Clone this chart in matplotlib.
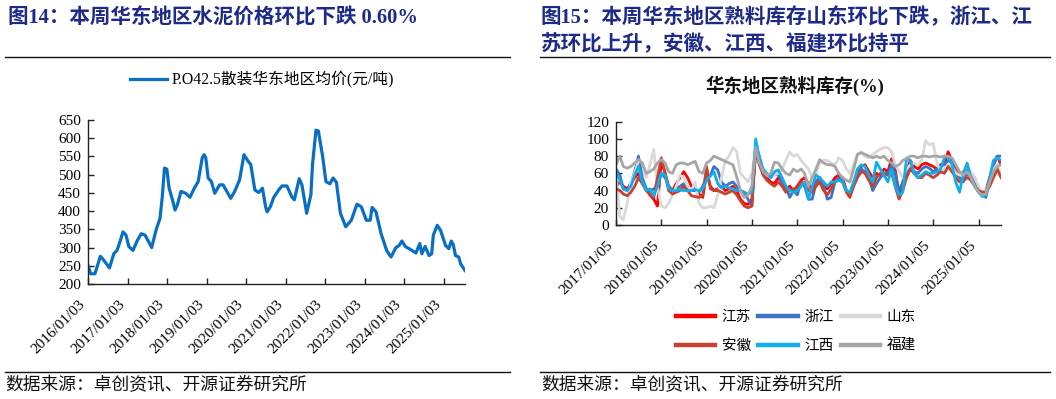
import matplotlib
matplotlib.use('Agg')
import matplotlib.pyplot as plt
import matplotlib.dates as mdates
from matplotlib.lines import Line2D
import pandas as pd

# 图14 数据：P.O42.5散装华东地区均价(元/吨)
price_dates = [
    '2016-01-03', '2016-01-28', '2016-03-07', '2016-04-26', '2016-05-18', '2016-07-20',
    '2016-08-28', '2016-09-27', '2016-10-19', '2016-11-22', '2016-12-20', '2017-01-14',
    '2017-02-22', '2017-03-30', '2017-05-09', '2017-06-14', '2017-08-14', '2017-09-23',
    '2017-10-30', '2017-11-20', '2017-12-10', '2018-01-01', '2018-01-22', '2018-02-22',
    '2018-03-18', '2018-04-08', '2018-05-12', '2018-06-24', '2018-08-03', '2018-09-12',
    '2018-10-18', '2018-11-24', '2018-12-12', '2018-12-27', '2019-01-18', '2019-02-17',
    '2019-03-20', '2019-05-04', '2019-06-05', '2019-08-15', '2019-09-20', '2019-11-05',
    '2019-12-15', '2020-01-22', '2020-02-16', '2020-03-25', '2020-04-30', '2020-06-03',
    '2020-07-02', '2020-07-16', '2020-08-15', '2020-09-16', '2020-10-31', '2020-12-01',
    '2021-01-16', '2021-03-03', '2021-03-25', '2021-05-09', '2021-06-03', '2021-07-17',
    '2021-08-25', '2021-09-09', '2021-10-11', '2021-11-02', '2021-12-11', '2022-01-11',
    '2022-02-17', '2022-03-18', '2022-04-18', '2022-05-25', '2022-07-13', '2022-09-03',
    '2022-10-25', '2022-12-04', '2023-01-19', '2023-02-24', '2023-03-14', '2023-04-19',
    '2023-06-05', '2023-07-27', '2023-09-05', '2023-10-20', '2023-11-20', '2023-12-14',
    '2024-01-15', '2024-03-07', '2024-04-22', '2024-05-28', '2024-06-16', '2024-07-16',
    '2024-08-22', '2024-09-15', '2024-09-30', '2024-11-05', '2024-12-05', '2025-01-21',
    '2025-02-20', '2025-03-15', '2025-04-02', '2025-04-23', '2025-05-23', '2025-06-10',
    '2025-07-20',
]
price_values = [
    251, 228, 228, 276, 269, 244,
    283, 292, 311, 343, 334, 303,
    292, 317, 338, 334, 300, 348,
    380, 440, 518, 515, 463, 431,
    403, 417, 454, 449, 438, 463,
    481, 546, 555, 546, 491, 481,
    449, 472, 472, 435, 454, 486,
    555, 537, 528, 458, 451, 463,
    412, 398, 412, 438, 458, 469,
    469, 438, 431, 489, 472, 394,
    445, 528, 622, 620, 551, 481,
    475, 491, 479, 394, 357, 375,
    419, 412, 375, 375, 410, 398,
    338, 292, 274, 300, 306, 318,
    303, 294, 285, 311, 283, 303,
    278, 283, 334, 361, 348, 306,
    297, 318, 309, 278, 274, 255,
    237,
]
price_ticks = ['2016-01-03', '2017-01-03', '2018-01-03', '2019-01-03', '2020-01-03',
               '2021-01-03', '2022-01-03', '2023-01-03', '2024-01-03', '2025-01-03']

# 图15 数据：华东地区熟料库存(%)，2017/01 - 2025/07 月度
jiangsu = [
    45, 50, 45, 42, 48, 55, 60, 52, 42, 35, 30, 22,
    75, 60, 45, 40, 48, 55, 62, 55, 45, 42, 36, 32,
    60, 45, 40, 42, 45, 40, 42, 45, 40, 30, 25, 24,
    30, 85, 72, 60, 55, 50, 48, 55, 50, 42, 45, 40,
    45, 52, 55, 48, 40, 50, 55, 45, 42, 48, 55, 58,
    55, 40, 35, 50, 60, 68, 70, 62, 55, 60, 58, 65,
    62, 77, 65, 35, 50, 62, 75, 68, 65, 70, 72, 70,
    68, 65, 70, 72, 85, 75, 68, 60, 62, 65, 58, 55,
    40, 38, 40, 55, 70, 80, 70,
]
zhejiang = [
    65, 58, 42, 40, 48, 62, 80, 55, 42, 40, 42, 45,
    60, 55, 45, 40, 42, 45, 48, 42, 40, 40, 38, 45,
    55, 58, 68, 64, 50, 45, 48, 50, 45, 40, 38, 30,
    22, 92, 80, 62, 58, 55, 60, 58, 50, 45, 32, 40,
    35, 50, 45, 30, 30, 48, 55, 45, 30, 32, 50, 55,
    52, 40, 35, 48, 58, 65, 62, 55, 40, 48, 55, 60,
    60, 70, 60, 40, 48, 62, 70, 62, 60, 65, 68, 66,
    62, 65, 68, 70, 75, 72, 60, 55, 50, 60, 55, 50,
    40, 35, 32, 50, 70, 80, 80,
]
shandong = [
    60, 10, 6, 25, 50, 60, 75, 72, 55, 70, 88, 45,
    22, 20, 25, 35, 45, 58, 55, 45, 40, 50, 25, 20,
    20, 22, 20, 35, 55, 75, 80, 90, 85, 60, 55, 50,
    60, 85, 70, 60, 58, 55, 58, 60, 65, 75, 85, 80,
    82, 75, 70, 65, 55, 60, 72, 75, 75, 72, 70, 78,
    75, 65, 60, 70, 82, 85, 80, 78, 82, 85, 88, 90,
    90, 85, 70, 62, 55, 65, 70, 72, 70, 75, 98, 93,
    95, 72, 62, 65, 70, 68, 60, 58, 62, 68, 62, 55,
    45, 38, 40, 50, 65, 70, 60,
]
anhui = [
    42, 40, 36, 34, 38, 45, 55, 48, 40, 36, 32, 55,
    78, 60, 40, 36, 38, 40, 45, 40, 34, 33, 32, 35,
    68, 42, 40, 40, 38, 36, 38, 40, 35, 28, 22, 20,
    22, 88, 70, 58, 52, 48, 45, 50, 45, 38, 40, 42,
    42, 50, 48, 40, 38, 45, 50, 40, 35, 42, 50, 52,
    50, 38, 32, 45, 55, 62, 60, 52, 45, 55, 60, 58,
    58, 60, 45, 30, 40, 55, 65, 60, 55, 55, 60, 58,
    55, 58, 62, 60, 68, 62, 55, 50, 52, 55, 52, 45,
    40, 38, 38, 45, 55, 65, 55,
]
jiangxi = [
    62, 52, 42, 40, 45, 58, 68, 50, 40, 42, 34, 45,
    60, 58, 42, 40, 40, 41, 40, 40, 40, 41, 40, 42,
    52, 57, 62, 48, 43, 45, 43, 42, 40, 40, 38, 36,
    38, 100, 78, 65, 60, 55, 62, 64, 55, 45, 40, 38,
    40, 45, 50, 30, 45, 58, 55, 50, 45, 50, 50, 52,
    50, 40, 38, 50, 65, 70, 68, 58, 50, 73, 65, 58,
    50, 65, 45, 35, 38, 78, 75, 60, 55, 58, 62, 60,
    60, 62, 65, 78, 80, 70, 50, 38, 60, 72, 55, 45,
    38, 33, 35, 55, 75, 78, 75,
]
fujian = [
    70, 80, 68, 66, 68, 72, 76, 72, 60, 62, 65, 72,
    76, 72, 62, 60, 70, 72, 72, 70, 72, 74, 62, 60,
    72, 75, 80, 78, 76, 74, 72, 70, 56, 40, 32, 35,
    45, 90, 72, 62, 58, 60, 73, 72, 65, 60, 58, 65,
    62, 65, 60, 45, 55, 65, 76, 72, 70, 70, 68, 60,
    55, 52, 50, 65, 82, 84, 82, 80, 78, 80, 78, 80,
    75, 72, 68, 70, 75, 77, 80, 80, 78, 80, 80, 79,
    80, 80, 79, 80, 80, 78, 70, 62, 58, 62, 55, 45,
    38, 35, 36, 50, 62, 68, 70,
]
stock_ticks = ['2017-01-05', '2018-01-05', '2019-01-05', '2020-01-05', '2021-01-05',
               '2022-01-05', '2023-01-05', '2024-01-05', '2025-01-05']

series_names = ['江苏', '浙江', '山东', '安徽', '江西', '福建']
series_colors = ['#FF0000', '#3A74C4', '#D9D9D9', '#C8412F', '#10AEEA', '#A6A6A6']

serif_cjk = ['Liberation Serif', 'Noto Sans CJK SC']
cjk = ['Noto Sans CJK SC', 'DejaVu Sans']
navy = '#1E2A8A'

fig = plt.figure(figsize=(10.56, 3.99), dpi=100)

# ---- 左图 ----
ax1 = fig.add_axes([88 / 1056, 1 - 284 / 399, 377 / 1056, 164 / 399])
x1 = pd.to_datetime(price_dates)
ax1.plot(x1, price_values, color='#0A6FC2', lw=2.3, label='P.O42.5散装华东地区均价(元/吨)')
ax1.set_ylim(200, 650)
ax1.set_yticks(range(200, 651, 50))
ax1.set_xlim(pd.Timestamp('2016-01-03'), pd.Timestamp('2025-07-20'))
ax1.set_xticks(pd.to_datetime(price_ticks))
ax1.xaxis.set_major_formatter(mdates.DateFormatter('%Y/%m/%d'))
leg1 = ax1.legend(loc='center', bbox_to_anchor=(262 / 1056, 1 - 80 / 399),
                  bbox_transform=fig.transFigure, frameon=False,
                  prop={'family': serif_cjk, 'size': 11.3},
                  handlelength=2.4, handletextpad=0.3)

# ---- 右图 ----
ax2 = fig.add_axes([616 / 1056, 1 - 225 / 399, 385 / 1056, 103.3 / 399])
x2 = pd.date_range('2017-01-01', periods=len(jiangsu), freq='MS') + pd.Timedelta(days=4)
lines = []
for vals, name, col in zip([jiangsu, zhejiang, shandong, anhui, jiangxi, fujian],
                           series_names, series_colors):
    ln, = ax2.plot(x2, vals, color=col, lw=2.0, label=name)
    lines.append(ln)
ax2.set_ylim(0, 120)
ax2.set_yticks(range(0, 121, 20))
ax2.set_xlim(pd.Timestamp('2017-01-05'), x2[-1])
ax2.set_xticks(pd.to_datetime(stock_ticks))
ax2.xaxis.set_major_formatter(mdates.DateFormatter('%Y/%m/%d'))
order = [0, 3, 1, 4, 2, 5]
leg2 = ax2.legend([lines[i] for i in order], [series_names[i] for i in order],
                  ncol=3, loc='center', bbox_to_anchor=(796 / 1056, 1 - 331.5 / 399),
                  bbox_transform=fig.transFigure, frameon=False,
                  prop={'family': cjk, 'size': 10.5},
                  handlelength=2.7, handletextpad=0.45, columnspacing=0.5,
                  labelspacing=1.0)
for h in leg2.legend_handles:
    h.set_linewidth(3.2)

for ax in (ax1, ax2):
    for s in ('top', 'right'):
        ax.spines[s].set_visible(False)
    for s in ('left', 'bottom'):
        ax.spines[s].set_color('#222222')
        ax.spines[s].set_linewidth(1.0)
    ax.tick_params(direction='in', length=4, width=1.0, color='#222222',
                   labelsize=11, pad=5)
    ax.tick_params(axis='x', pad=10)
    for lab in ax.get_yticklabels():
        lab.set_family('Liberation Serif')
    for lab in ax.get_xticklabels():
        lab.set_family('Liberation Serif')
        lab.set_rotation(45)
        lab.set_ha('right')
        lab.set_va('top')

# ---- 标题、分隔线、来源 ----
fig.text(8 / 1056, 1 - 18 / 399, '图14：本周华东地区水泥价格环比下跌 0.60%',
         family=serif_cjk, fontsize=14.8, fontweight='bold', color=navy, va='center')
fig.text(541 / 1056, 1 - 18 / 399, '图15：本周华东地区熟料库存山东环比下跌，浙江、江',
         family=serif_cjk, fontsize=14.8, fontweight='bold', color=navy, va='center')
fig.text(541 / 1056, 1 - 45 / 399, '苏环比上升，安徽、江西、福建环比持平',
         family=serif_cjk, fontsize=14.8, fontweight='bold', color=navy, va='center')
fig.text(795 / 1056, 1 - 86 / 399, '华东地区熟料库存(%)',
         family=serif_cjk, fontsize=13.3, fontweight='bold', color='#111111',
         ha='center', va='center')

for y in (56.5, 372):
    fig.add_artist(Line2D([5 / 1056, 510 / 1056], [1 - y / 399] * 2, color='#111111', lw=1.0))
    fig.add_artist(Line2D([540 / 1056, 1050 / 1056], [1 - y / 399] * 2, color='#111111', lw=1.0))

for x in (5, 541):
    fig.text(x / 1056, 1 - 385 / 399, '数据来源：卓创资讯、开源证券研究所',
             family=cjk, fontsize=12.8, color='#111111', va='center')

fig.savefig('out.png', dpi=100)
